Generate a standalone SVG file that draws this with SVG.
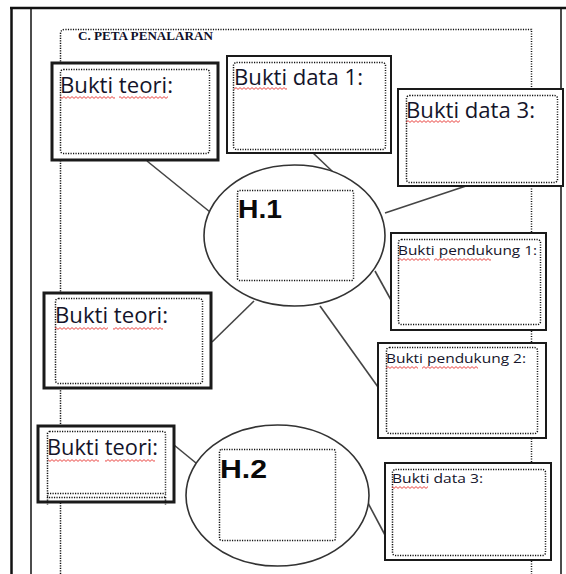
<svg xmlns="http://www.w3.org/2000/svg" width="566" height="574" viewBox="0 0 566 574">
  <style>
    .frame { stroke: #111; fill: none; }
    .guide { stroke: #111; stroke-width: 1.5; stroke-dasharray: 1.2 1.3; fill: none; }
    .box { fill: #fff; stroke: #1a1a1a; stroke-width: 2; }
    .box.heavy { stroke-width: 3; }
    .inner { fill: none; stroke: #111; stroke-width: 1.5; stroke-dasharray: 1.2 1.3; }
    .hyp { fill: #fff; stroke: #333; stroke-width: 1.6; }
    .link { stroke: #444; stroke-width: 1.6; fill: none; }
    .lbl { font-family: "Open Sans", "Liberation Sans", sans-serif; fill: #14142a; }
    .big { font-size: 21px; }
    .small { font-size: 13.5px; }
    .h { font-family: "Liberation Sans", Arial, sans-serif; font-weight: bold; font-size: 25px; fill: #0a0a0a; }
    .title { font-family: "Liberation Serif", "Times New Roman", serif; font-weight: bold; font-size: 11.5px; fill: #10102a; }
    .spell { fill: url(#squiggle); }
  </style>
  <defs>
    <pattern id="squiggle" patternUnits="userSpaceOnUse" width="4" height="3">
      <path d="M0,0.6 L2,2.4 L4,0.6" stroke="#e8322e" stroke-width="0.9" fill="none"/>
    </pattern>
  </defs>

  <!-- page frame -->
  <g id="page">
    <path class="frame" d="M10,8 H566" stroke-width="2.5"/>
    <path class="frame" d="M11.5,8 V574" stroke-width="2.5"/>
    <path class="frame" d="M31,8 V574" stroke-width="1.5"/>
    <path class="frame" d="M561,8 V574" stroke-width="1.5"/>
    <path class="guide" d="M60.5,574 V34 Q60.5,29.5 65,29.5 H531.5 V574"/>
    <text class="title" x="78" y="40" textLength="135" lengthAdjust="spacingAndGlyphs">C. PETA PENALARAN</text>
  </g>

  <!-- connectors -->
  <g id="connectors">
    <line class="link" x1="147" y1="161" x2="210" y2="212"/>
    <line class="link" x1="312" y1="152" x2="333" y2="172"/>
    <line class="link" x1="466" y1="186" x2="385" y2="213"/>
    <line class="link" x1="375" y1="271" x2="391" y2="300"/>
    <line class="link" x1="320" y1="306" x2="378" y2="387"/>
    <line class="link" x1="254" y1="301" x2="212" y2="342"/>
    <line class="link" x1="174" y1="445" x2="196" y2="463"/>
    <line class="link" x1="368" y1="503" x2="385" y2="535"/>
  </g>

  <!-- hypothesis H.1 -->
  <g id="h1">
    <ellipse class="hyp" cx="294.5" cy="235.5" rx="90.5" ry="70.5"/>
    <rect class="inner" x="237.5" y="190.5" width="116" height="90" rx="2"/>
    <text class="h" x="238" y="218" textLength="44" lengthAdjust="spacingAndGlyphs">H.1</text>
  </g>

  <!-- hypothesis H.2 -->
  <g id="h2">
    <ellipse class="hyp" cx="277.5" cy="495.5" rx="91.5" ry="70.5"/>
    <rect class="inner" x="219.5" y="449.5" width="116" height="91" rx="2"/>
    <text class="h" x="220" y="478" textLength="47" lengthAdjust="spacingAndGlyphs">H.2</text>
  </g>

  <!-- theory evidence, top -->
  <g id="teori1">
    <rect class="box heavy" x="52" y="63" width="166" height="97"/>
    <rect class="inner" x="60.5" y="69.5" width="149" height="84" rx="3"/>
    <text class="lbl big" x="60" y="93" textLength="113" lengthAdjust="spacingAndGlyphs">Bukti teori:</text>
    <rect class="spell" x="60" y="96" width="55" height="3"/>
    <rect class="spell" x="119" y="96" width="49" height="3"/>
  </g>

  <!-- data evidence 1 -->
  <g id="data1">
    <rect class="box" x="227" y="56" width="164" height="97"/>
    <rect class="inner" x="233.5" y="62.5" width="152" height="87" rx="3"/>
    <text class="lbl big" x="234" y="85" textLength="129" lengthAdjust="spacingAndGlyphs">Bukti data 1:</text>
    <rect class="spell" x="234" y="87" width="53" height="3"/>
  </g>

  <!-- data evidence 3, top -->
  <g id="data3a">
    <rect class="box" x="398" y="89" width="165" height="97"/>
    <rect class="inner" x="406.5" y="95.5" width="151" height="87" rx="3"/>
    <text class="lbl big" x="406" y="118" textLength="129" lengthAdjust="spacingAndGlyphs">Bukti data 3:</text>
    <rect class="spell" x="406" y="120" width="54" height="3"/>
  </g>

  <!-- supporting evidence 1 -->
  <g id="pendukung1">
    <rect class="box" x="391" y="233" width="155" height="97"/>
    <rect class="inner" x="398.5" y="239.5" width="142" height="85" rx="3"/>
    <text class="lbl small" x="398" y="255" textLength="139" lengthAdjust="spacingAndGlyphs">Bukti pendukung 1:</text>
    <rect class="spell" x="398" y="258" width="32" height="3"/>
    <rect class="spell" x="434" y="258" width="57" height="3"/>
  </g>

  <!-- supporting evidence 2 -->
  <g id="pendukung2">
    <rect class="box" x="378" y="343" width="168" height="95"/>
    <rect class="inner" x="386.5" y="347.5" width="151" height="86" rx="3"/>
    <text class="lbl small" x="386" y="363" textLength="140" lengthAdjust="spacingAndGlyphs">Bukti pendukung 2:</text>
    <rect class="spell" x="386" y="366" width="32" height="3"/>
    <rect class="spell" x="422" y="366" width="56" height="3"/>
  </g>

  <!-- theory evidence, middle -->
  <g id="teori2">
    <rect class="box heavy" x="44" y="293" width="167" height="95"/>
    <rect class="inner" x="55.5" y="298.5" width="147" height="85" rx="3"/>
    <text class="lbl big" x="55" y="323" textLength="113" lengthAdjust="spacingAndGlyphs">Bukti teori:</text>
    <rect class="spell" x="55" y="327" width="53" height="3"/>
    <rect class="spell" x="113" y="327" width="50" height="3"/>
  </g>

  <!-- theory evidence, bottom -->
  <g id="teori3">
    <rect class="box heavy" x="38" y="426" width="136" height="76"/>
    <rect class="inner" x="47.5" y="431.5" width="118" height="66" rx="2"/>
    <path class="inner" d="M47.5,493.5 H165.5 M47.5,497 V505 M165.5,497 V505"/>
    <text class="lbl big" x="47" y="455" textLength="111" lengthAdjust="spacingAndGlyphs">Bukti teori:</text>
    <rect class="spell" x="48" y="459" width="51" height="3"/>
    <rect class="spell" x="105" y="459" width="50" height="3"/>
  </g>

  <!-- data evidence 3, bottom -->
  <g id="data3b">
    <rect class="box" x="385" y="463" width="166" height="97"/>
    <rect class="inner" x="392.5" y="469.5" width="153" height="86" rx="3"/>
    <text class="lbl small" x="392" y="483" textLength="91" lengthAdjust="spacingAndGlyphs">Bukti data 3:</text>
    <rect class="spell" x="392" y="486" width="36" height="3"/>
  </g>
</svg>
